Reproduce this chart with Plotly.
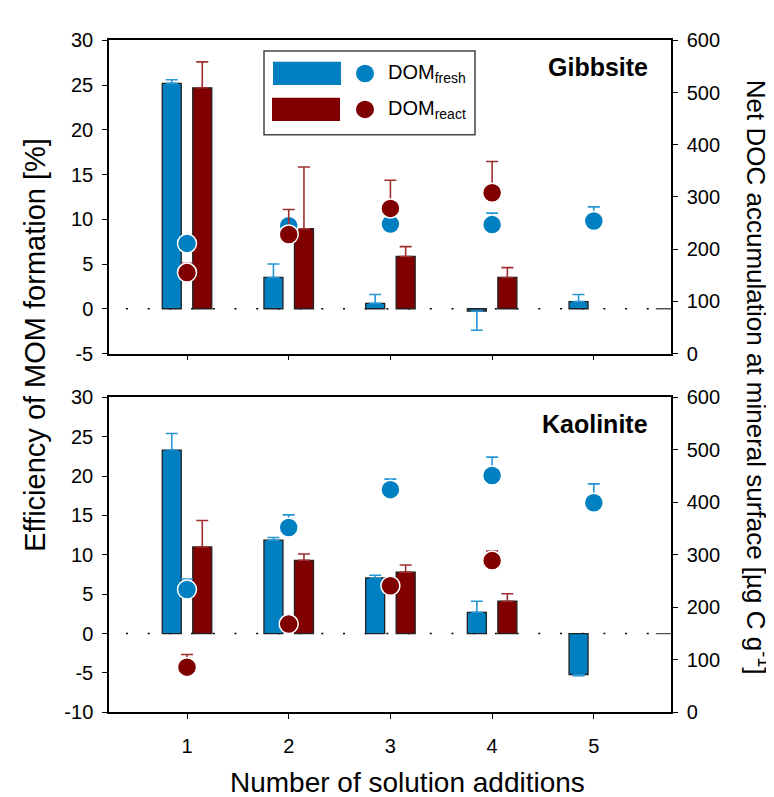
import plotly.graph_objects as go

# ---------------- data ----------------
additions = [1, 2, 3, 4, 5]
additions_react = [1, 2, 3, 4]

# Gibbsite – efficiency of MOM formation [%] (bars, left axis)
gib_eff_fresh = [25.2, 3.5, 0.6, -0.25, 0.8]
gib_eff_fresh_err = [0.4, 1.5, 1.0, 2.15, 0.8]
gib_eff_react = [24.7, 8.95, 5.85, 3.5]
gib_eff_react_err = [2.9, 6.9, 1.1, 1.1]

# Gibbsite – net DOC accumulation [µg C g-1] (points, right axis)
gib_doc_fresh = [211, 245, 248, 247, 254]
gib_doc_fresh_err = [5, 8, 5, 22, 27]
gib_doc_react = [155, 228, 278, 308]
gib_doc_react_err = [18, 48, 54, 60]

# Kaolinite – efficiency of MOM formation [%]
kao_eff_fresh = [23.3, 11.85, 7.05, 2.7, -5.2]
kao_eff_fresh_err = [2.1, 0.35, 0.35, 1.4, 0.15]
kao_eff_react = [11.0, 9.3, 7.8, 4.1]
kao_eff_react_err = [3.35, 0.8, 0.9, 0.95]

# Kaolinite – net DOC accumulation
kao_doc_fresh = [234, 352, 424, 451, 399]
kao_doc_fresh_err = [20, 24, 20, 35, 36]
kao_doc_react = [86, 168, 241, 289]
kao_doc_react_err = [24, 5, 5, 18]

x_ticks = [1, 2, 3, 4, 5]
x_tick_labels = ["1", "2", "3", "4", "5"]
gib_left_ticks = [-5, 0, 5, 10, 15, 20, 25, 30]
kao_left_ticks = [-10, -5, 0, 5, 10, 15, 20, 25, 30]
right_ticks = [0, 100, 200, 300, 400, 500, 600]

# ---------------- style ----------------
W, H = 774, 797
FONT = "Liberation Sans, Arial, sans-serif"
BLUE = "#0080c0"
RED = "#800000"
BLUE_ERR = "#2596d6"
RED_ERR = "#9e2f2f"
BAR_W = 0.187
OFF = 0.15


def px_x(p):
    return p / W


def px_y(p):
    return 1 - p / H


def err_dir(vals, errs):
    up = [e if v >= 0 else 0 for v, e in zip(vals, errs)]
    dn = [e if v < 0 else 0 for v, e in zip(vals, errs)]
    return up, dn


fig = go.Figure()


def add_panel(xa, ya, ya2, eff_f, eff_f_err, eff_r, eff_r_err, doc_f, doc_f_err, doc_r, doc_r_err):
    up, dn = err_dir(eff_f, eff_f_err)
    fig.add_trace(go.Bar(
        x=additions, y=eff_f, width=BAR_W, offset=-OFF - BAR_W / 2,
        marker=dict(color=BLUE, line=dict(color="#222", width=1.3)),
        error_y=dict(type="data", symmetric=False, array=up, arrayminus=dn,
                     color=BLUE_ERR, thickness=1.6, width=6),
        xaxis=xa, yaxis=ya, showlegend=False))
    up, dn = err_dir(eff_r, eff_r_err)
    fig.add_trace(go.Bar(
        x=additions_react, y=eff_r, width=BAR_W, offset=OFF - BAR_W / 2,
        marker=dict(color=RED, line=dict(color="#222", width=1.3)),
        error_y=dict(type="data", symmetric=False, array=up, arrayminus=dn,
                     color=RED_ERR, thickness=1.6, width=6),
        xaxis=xa, yaxis=ya, showlegend=False))
    fig.add_trace(go.Scatter(
        x=additions, y=doc_f, mode="markers",
        marker=dict(color=BLUE, size=19, line=dict(color="white", width=1.5)),
        error_y=dict(type="data", symmetric=False, array=doc_f_err,
                     arrayminus=[0] * len(doc_f), color=BLUE_ERR, thickness=1.6, width=6),
        xaxis=xa, yaxis=ya2, showlegend=False))
    fig.add_trace(go.Scatter(
        x=additions_react, y=doc_r, mode="markers",
        marker=dict(color=RED, size=19, line=dict(color="white", width=1.5)),
        error_y=dict(type="data", symmetric=False, array=doc_r_err,
                     arrayminus=[0] * len(doc_r), color=RED_ERR, thickness=1.6, width=6),
        xaxis=xa, yaxis=ya2, showlegend=False))
    # dotted zero reference line
    fig.add_shape(type="line", xref=xa, yref=ya, x0=0.40, x1=5.61, y0=0, y1=0,
                  line=dict(color="black", width=1.6, dash="2px,19.7px"), layer="below")
    fig.add_shape(type="line", xref=xa, yref=ya, x0=5.61, x1=5.759, y0=0, y1=0,
                  line=dict(color="#555", width=1.3), layer="below")


add_panel("x", "y", "y2", gib_eff_fresh, gib_eff_fresh_err, gib_eff_react, gib_eff_react_err,
          gib_doc_fresh, gib_doc_fresh_err, gib_doc_react, gib_doc_react_err)
add_panel("x2", "y3", "y4", kao_eff_fresh, kao_eff_fresh_err, kao_eff_react, kao_eff_react_err,
          kao_doc_fresh, kao_doc_fresh_err, kao_doc_react, kao_doc_react_err)

xdom = [px_x(101), px_x(663)]
top_dom = [px_y(344), px_y(22)]
bot_dom = [px_y(713), px_y(389)]

tickfont = dict(family=FONT, size=20, color="black")
common_y = dict(showgrid=False, zeroline=False, showline=True, linecolor="black", linewidth=1.5,
                ticks="outside", ticklen=5, tickwidth=1.3, tickcolor="black", tickfont=tickfont)
common_x = dict(range=[0.233, 5.759], tickvals=x_ticks, ticktext=x_tick_labels, showgrid=False,
                zeroline=False, showline=True, linecolor="black", linewidth=1.5, mirror=True,
                ticks="outside", ticklen=5, tickwidth=1.3, tickcolor="black", tickfont=tickfont)

fig.update_layout(
    width=W, height=H, margin=dict(l=0, r=0, t=0, b=0),
    paper_bgcolor="white", plot_bgcolor="white", barmode="overlay",
    font=dict(family=FONT, color="black"),
    xaxis=dict(domain=xdom, anchor="y", showticklabels=False, **common_x),
    yaxis=dict(domain=top_dom, anchor="x", range=[-5, 30], tickvals=gib_left_ticks,
               ticktext=[str(v) for v in gib_left_ticks], ticklabelstandoff=5, **common_y),
    yaxis2=dict(overlaying="y", anchor="x", side="right", range=[0, 600], tickvals=right_ticks,
                ticktext=[str(v) for v in right_ticks], ticklabelstandoff=5, **common_y),
    xaxis2=dict(domain=xdom, anchor="y3", ticklabelstandoff=10, **common_x),
    yaxis3=dict(domain=bot_dom, anchor="x2", range=[-10, 30], tickvals=kao_left_ticks,
                ticktext=[str(v) for v in kao_left_ticks], ticklabelstandoff=5, **common_y),
    yaxis4=dict(overlaying="y3", anchor="x2", side="right", range=[0, 600], tickvals=right_ticks,
                ticktext=[str(v) for v in right_ticks], ticklabelstandoff=5, **common_y),
)

annotations = [
    dict(text="<b>Gibbsite</b>", x=px_x(642), y=px_y(49), xanchor="right", yanchor="middle",
         font=dict(size=25)),
    dict(text="<b>Kaolinite</b>", x=px_x(642), y=px_y(417), xanchor="right", yanchor="middle",
         font=dict(size=25)),
    dict(text="Number of solution additions", x=px_x(399), y=px_y(785), xanchor="center",
         yanchor="middle", font=dict(size=28)),
    dict(text="Efficiency of MOM formation [%]", x=px_x(27), y=px_y(335), xanchor="center",
         yanchor="middle", textangle=-90, font=dict(size=29)),
    dict(text="Net DOC accumulation at mineral surface [µg C g<sup>-1</sup>]", x=px_x(749),
         y=px_y(368), xanchor="center", yanchor="middle", textangle=90, font=dict(size=26)),
    dict(text="DOM<sub>fresh</sub>", x=px_x(378), y=px_y(56), xanchor="left", yanchor="middle",
         font=dict(size=20)),
    dict(text="DOM<sub>react</sub>", x=px_x(378), y=px_y(93), xanchor="left", yanchor="middle",
         font=dict(size=20)),
]
for a in annotations:
    a.update(xref="paper", yref="paper", showarrow=False)
fig.update_layout(annotations=annotations)

# manual legend (box, swatches, circles)
legend_shapes = [
    dict(type="rect", x0=px_x(256), x1=px_x(467), y0=px_y(119), y1=px_y(33),
         line=dict(color="#444", width=1.5), fillcolor="white", layer="above"),
    dict(type="rect", x0=px_x(265), x1=px_x(333), y0=px_y(68), y1=px_y(44),
         line=dict(width=0), fillcolor=BLUE, layer="above"),
    dict(type="rect", x0=px_x(264), x1=px_x(332), y0=px_y(105), y1=px_y(81),
         line=dict(width=0), fillcolor=RED, layer="above"),
    dict(type="circle", x0=px_x(348), x1=px_x(366), y0=px_y(65), y1=px_y(47),
         line=dict(width=0), fillcolor=BLUE, layer="above"),
    dict(type="circle", x0=px_x(348), x1=px_x(366), y0=px_y(102), y1=px_y(84),
         line=dict(width=0), fillcolor=RED, layer="above"),
]
for s in legend_shapes:
    s.update(xref="paper", yref="paper")
    fig.add_shape(**s)

fig.write_html("out.html")
